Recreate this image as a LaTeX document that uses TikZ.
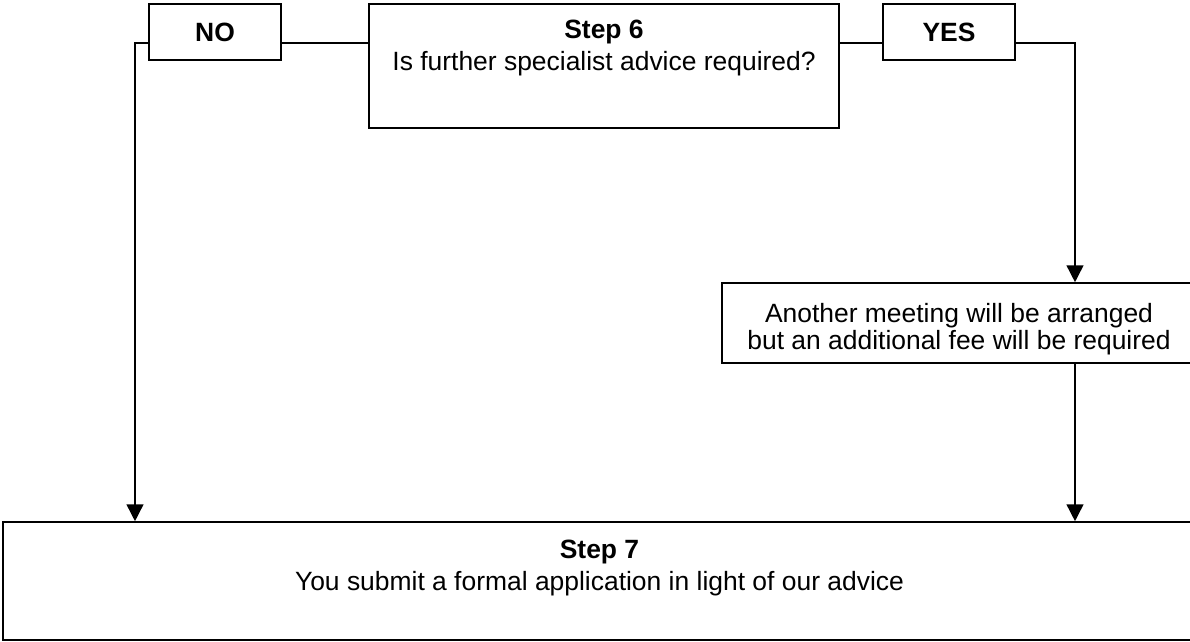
\documentclass[tikz,border=0pt]{standalone}
\usepackage{fontspec}
\setmainfont{Liberation Sans}
\usetikzlibrary{arrows.meta}
\begin{document}
\begin{tikzpicture}[
  x=0.025cm, y=-0.025cm,
  box/.style={rectangle, draw, line width=1.1pt, align=center, inner sep=0pt},
  choice/.style={box, minimum width=3.3cm, minimum height=1.4cm},
  link/.style={line width=1.1pt},
  flow/.style={line width=1.1pt, -{Triangle[length=0.42cm, width=0.42cm]}},
  font=\fontsize{18.8}{22.6}\selectfont
]
\useasboundingbox (0,0) rectangle (1190,642);
\node[choice] (no) at (215,32) {\textbf{NO}};
\node[box, minimum width=11.75cm, minimum height=3.1cm] (step6) at (604,66) {\textbf{Step 6}\\Is further specialist advice required?\\[7pt]\mbox{}};
\node[choice] (yes) at (949,32) {\textbf{YES}};
\node[box, minimum width=11.85cm, minimum height=2cm] (meet) at (959,323) {\rule{0pt}{22pt}Another meeting will be arranged\\[-3.4pt]but an additional fee will be required};
\node[box, minimum width=29.825cm, minimum height=2.95cm] (step7) at (599.5,581) {\textbf{Step 7}\\You submit a formal application in light of our advice\\ \mbox{}};

\coordinate (lvl) at (0,43);
\coordinate (ldrop) at (135,43);
\coordinate (rdrop) at (1075,43);

\draw[link] (no.east |- lvl) -- (step6.west |- lvl);
\draw[link] (step6.east |- lvl) -- (yes.west |- lvl);
\draw[flow] (no.west |- lvl) -- (ldrop) -- (ldrop |- step7.north);
\draw[flow] (yes.east |- lvl) -- (rdrop) -- (rdrop |- meet.north);
\draw[flow] (meet.south -| rdrop) -- (rdrop |- step7.north);
\end{tikzpicture}
\end{document}
